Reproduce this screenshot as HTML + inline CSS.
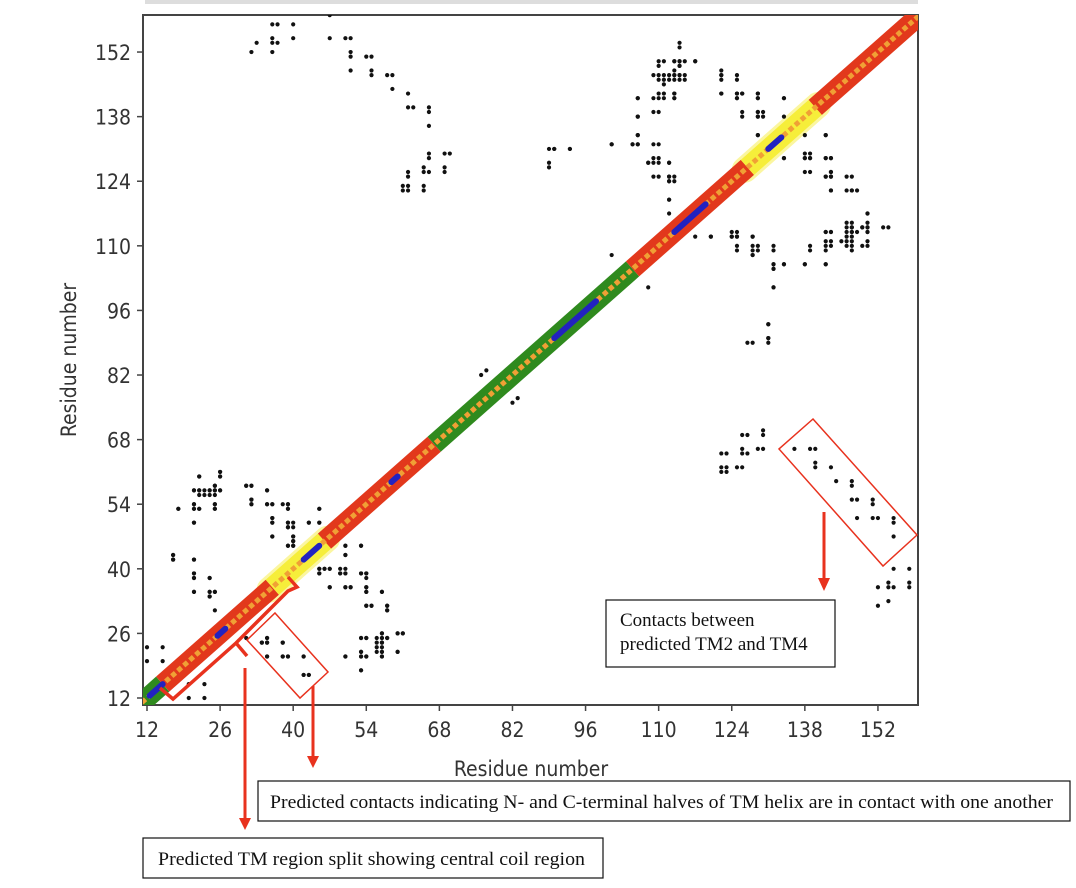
<!DOCTYPE html>
<html><head><meta charset="utf-8">
<style>
html,body{margin:0;padding:0;background:#fff;}
svg{display:block;}
.tick{font-family:"DejaVu Sans Condensed","DejaVu Sans","Liberation Sans",sans-serif;font-size:21px;fill:#333;}
.ann{font-family:"Liberation Serif",serif;font-size:19px;fill:#111;}
</style></head>
<body>
<svg id="chart" width="1076" height="888" viewBox="0 0 1076 888" xmlns="http://www.w3.org/2000/svg">
<defs><clipPath id="plotclip"><rect x="143" y="15" width="775" height="690"/></clipPath></defs>
<rect x="145" y="0" width="773" height="4" fill="#ddd"/>
<rect x="143" y="15" width="775" height="690" fill="#fff" stroke="#444" stroke-width="2"/>
<g clip-path="url(#plotclip)">
<g id="diag"></g>
<g id="dots"></g>
</g>
<g id="axes"></g>
<text x="76" y="360" class="tick" font-size="22" text-anchor="middle" transform="rotate(-90 76 360)">Residue number</text>
<text x="531" y="776" class="tick" font-size="22" text-anchor="middle">Residue number</text>

<g fill="none" stroke="#e8321e">
<polygon points="275,613 328,672 300,698 247,640" stroke-width="1.5"/>
<polygon points="813,419 917,535 883,566 779,449" stroke-width="1.5"/>
<polyline points="160,688 173,699 236,643 288,591 297,587 288,577" stroke-width="3.5"/>
<polyline points="236,643 247,656" stroke-width="3.5"/>
<line x1="245" y1="668" x2="245" y2="818" stroke-width="3"/>
<line x1="313" y1="686" x2="313" y2="758" stroke-width="3"/>
<line x1="824" y1="512" x2="824" y2="580" stroke-width="3"/>
</g>
<g fill="#e8321e">
<polygon points="239,818 251,818 245,830"/>
<polygon points="307,756 319,756 313,768"/>
<polygon points="818,578 830,578 824,591"/>
</g>

<rect x="606" y="600" width="229" height="67" fill="#fff" stroke="#111" stroke-width="1.2"/>
<text x="620" y="626" class="ann" font-size="17">Contacts between</text>
<text x="620" y="650" class="ann" font-size="17">predicted TM2 and TM4</text>
<rect x="258" y="781" width="812" height="40" fill="#fff" stroke="#111" stroke-width="1.2"/>
<text x="270" y="808" class="ann" textLength="783" lengthAdjust="spacingAndGlyphs">Predicted contacts indicating N- and C-terminal halves of TM helix are in contact with one another</text>
<rect x="143" y="838" width="460" height="40" fill="#fff" stroke="#111" stroke-width="1.2"/>
<text x="158" y="865" class="ann" textLength="427" lengthAdjust="spacingAndGlyphs">Predicted TM region split showing central coil region</text>
</svg>
<script>
const ticks = [12,26,40,54,68,82,96,110,124,138,152];
const segStart = [11,15,36,46,67,105,127,140];
const segEnd   = [15,36,46,67,105,127,140,162];
const segType  = ['green','red','yellow','red','green','red','yellow','red'];
const blueStart = [12.5,25.5,42,58.8,90,113,131];
const blueEnd   = [15,27,45,60,98,119,133.5];
const contactX = [32,33,36,37,36,36,37,36,40,40,47,47,50,51,51,51,51,54,55,55,55,58,59,59,62,62,63,66,66,66,66,66,69,70,65,65,66,69,69,62,62,61,62,61,62,65,65,
114,110,111,113,114,115,117,114,109,110,111,112,113,114,115,113,122,122,125,106,109,110,110,113,113,122,125,126,125,129,129,134,106,109,126,129,130,129,106,105,106,101,109,89,90,93,89,108,109,109,112,109,112,112,113,112,112,129,134,138,142,138,139,138,142,143,138,142,143,143,146,143,146,147,101,120,124,124,125,128,125,128,129,128,132,132,132,134,138,142,132,139,142,143,142,143,146,146,146,146,146,146,147,147,145,149,150,150,150,149,153,131,131,127,
22,26,26,21,22,24,25,26,25,21,25,25,21,22,18,21,31,32,32,32,35,35,36,39,39,36,36,39,40,39,36,40,40,39,40,43,45,45,17,17,21,21,21,24,21,24,25,24,25,
50,53,50,45,46,47,45,49,49,50,53,54,54,47,50,51,54,54,57,54,55,58,58,53,54,56,57,57,56,57,58,60,61,56,57,57,57,56,60,53,53,54,50,53,
12,15,12,15,35,34,35,38,35,38,39,42,42,43,76,77];
const contactY = [152,154,158,158,155,154,154,152,158,155,160,155,155,155,152,151,148,151,151,148,147,147,147,144,143,140,140,140,139,136,130,129,130,130,127,126,126,127,126,126,125,123,123,122,122,123,122,
154,150,150,150,150,150,150,149,147,147,147,147,147,147,147,148,148,147,147,142,142,142,143,143,142,143,143,143,142,143,142,142,138,139,139,139,139,138,134,132,132,132,132,131,131,131,128,128,128,129,128,125,125,124,125,120,117,134,129,134,134,129,129,130,129,129,126,125,125,126,125,122,122,122,108,112,112,113,112,112,110,110,110,108,110,106,105,106,106,106,101,110,113,113,111,111,115,114,113,112,111,110,114,113,111,114,114,117,113,110,114,93,90,89,
60,61,60,57,57,57,57,57,58,54,54,53,53,53,53,50,58,58,55,54,57,54,54,54,53,51,50,50,50,49,47,47,46,45,45,50,53,50,43,42,42,39,38,38,35,35,35,34,31,
45,45,43,40,40,40,39,40,39,39,39,39,38,36,36,36,36,35,35,32,32,32,31,25,25,25,25,26,24,24,25,26,26,23,23,22,21,22,22,22,21,21,21,18,
23,23,20,20,25,24,24,24,21,21,21,21,17,17,82,83];

const X0 = 147, XS = 5.221, Y0 = 698, YS = 4.614;
function xs(v){ return X0 + (v-12)*XS; }
function ys(v){ return Y0 - (v-12)*YS; }
const NS = 'http://www.w3.org/2000/svg';
function mk(tag, attrs, parent){ const e=document.createElementNS(NS,tag); for(const k in attrs) e.setAttribute(k,attrs[k]); parent.appendChild(e); return e; }

const colors = {green:'#2f8a1e', red:'#e2381c', yellow:'#f6ee3a'};
const diag = document.getElementById('diag');
for (let i=0;i<segStart.length;i++){
  if (segType[i]!=='yellow') continue;
  const g = mk('line',{x1:xs(segStart[i]-0.5),y1:ys(segStart[i]-0.5),x2:xs(segEnd[i]+0.5),y2:ys(segEnd[i]+0.5),stroke:'#fbf6a0','stroke-width':26,'stroke-linecap':'round'},diag);
  
  
}
for (let i=0;i<segStart.length;i++){
  const l = mk('line',{x1:xs(segStart[i]),y1:ys(segStart[i]),x2:xs(segEnd[i]),y2:ys(segEnd[i]),stroke:colors[segType[i]],'stroke-width':20},diag);
  
  
}
const center = mk('line',{x1:xs(11),y1:ys(11),x2:xs(162),y2:ys(162),stroke:'#f0a035','stroke-width':5,'stroke-dasharray':'5 3'},diag);


for (let i=0;i<blueStart.length;i++){
  const b = mk('line',{x1:xs(blueStart[i]),y1:ys(blueStart[i]),x2:xs(blueEnd[i]),y2:ys(blueEnd[i]),stroke:'#2222c0','stroke-width':6,'stroke-linecap':'round'},diag);
  
  
}

const dots = document.getElementById('dots');
for (let i=0;i<contactX.length;i++){
  const pairs = [[contactX[i],contactY[i]],[contactY[i],contactX[i]]];
  for (const p of pairs){
    const c = mk('circle',{cx:xs(p[0]),cy:ys(p[1]),r:2.1,fill:'#111'},dots);
    
    
  }
}

const axes = document.getElementById('axes');
for (const t of ticks){
  const tx = mk('line',{x1:xs(t),y1:705,x2:xs(t),y2:711,stroke:'#444','stroke-width':1.5},axes);
  
  
  const lx = mk('text',{x:xs(t),y:737,'text-anchor':'middle',class:'tick'},axes);
  lx.textContent = t;
  
  
  const ty = mk('line',{x1:137,y1:ys(t),x2:143,y2:ys(t),stroke:'#444','stroke-width':1.5},axes);
  
  
  const ly = mk('text',{x:131,y:ys(t)+8,'text-anchor':'end',class:'tick'},axes);
  ly.textContent = t;
  
  
}
</script>
</body></html>
